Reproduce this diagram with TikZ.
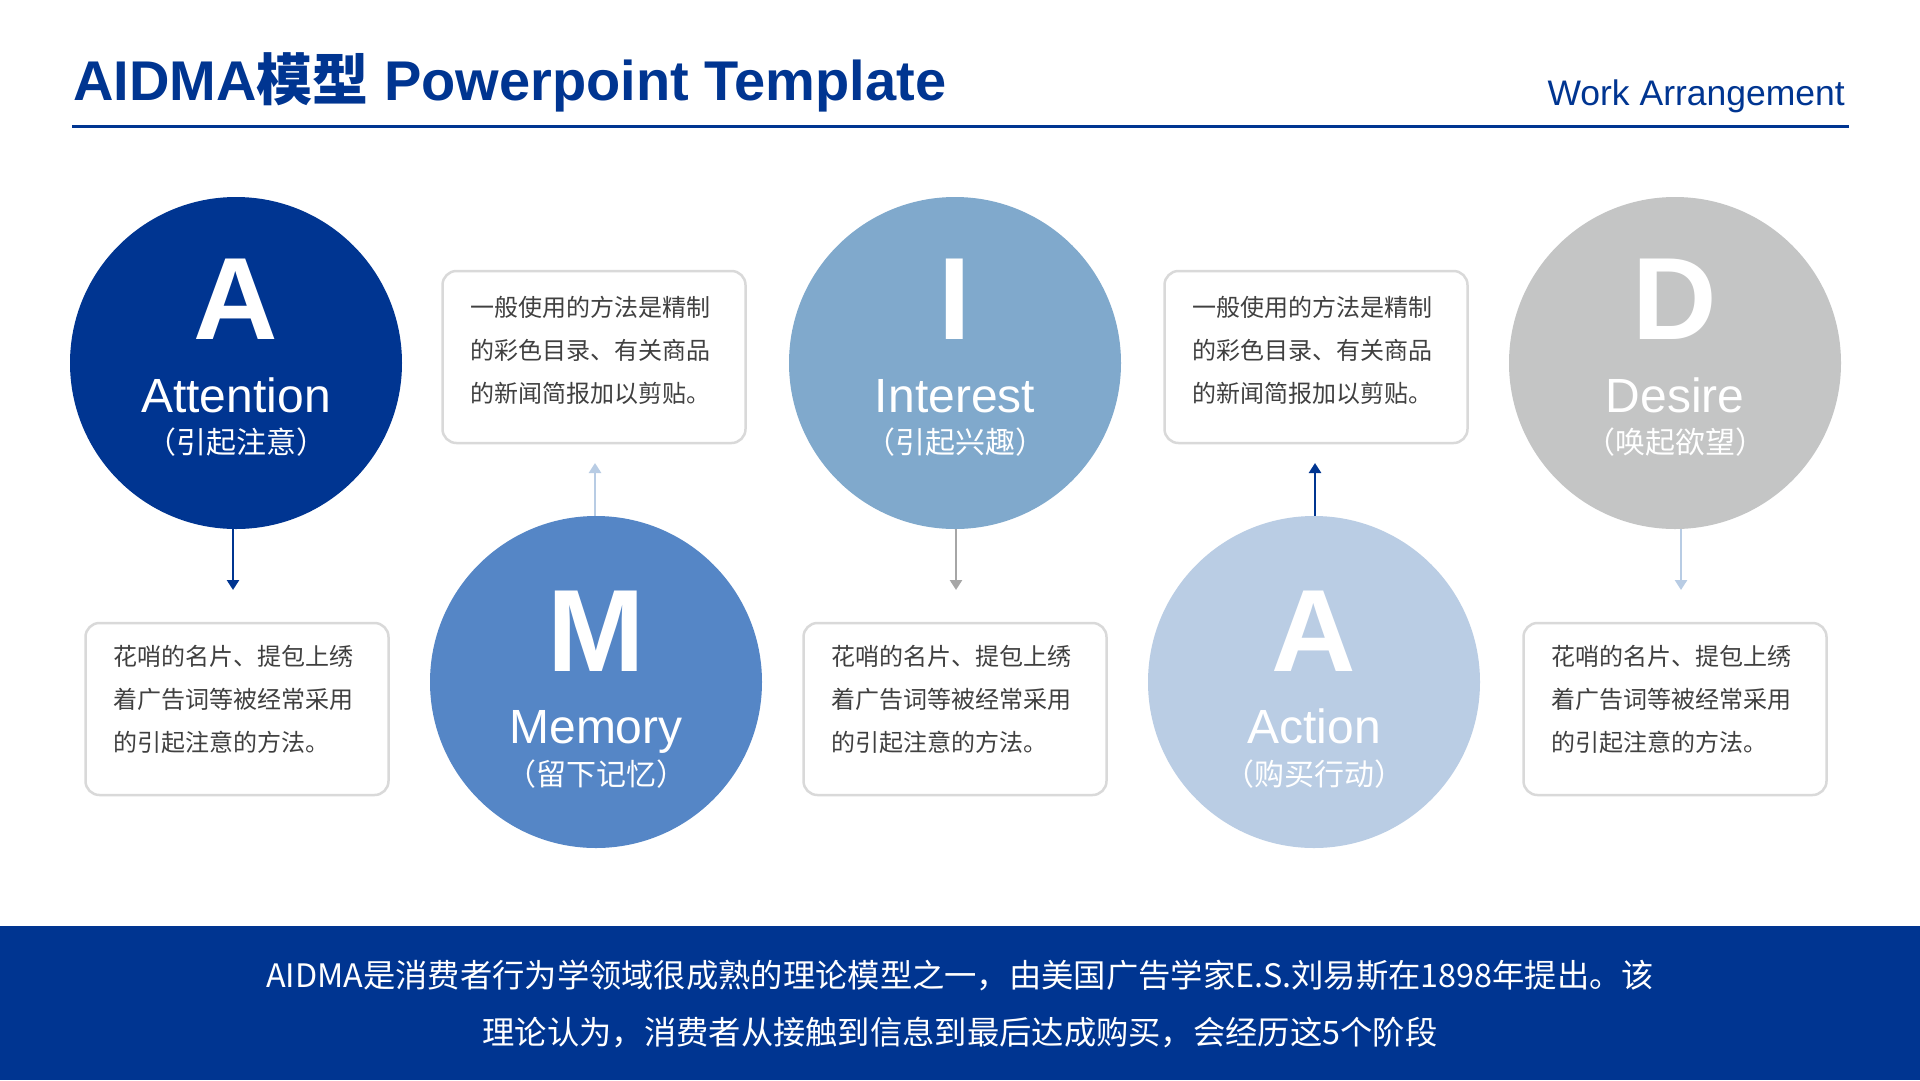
\documentclass[tikz,border=0pt]{standalone}
\usepackage{fontspec}
\setmainfont{Liberation Sans}
\newfontfamily\cjk{Noto Sans CJK SC}
\usetikzlibrary{arrows.meta}
\definecolor{dblue}{HTML}{003591}
\definecolor{iblue}{HTML}{80A9CC}
\definecolor{mblue}{HTML}{5586C6}
\definecolor{ablue}{HTML}{BACDE4}
\definecolor{dgray}{HTML}{C4C5C5}
\definecolor{boxgray}{HTML}{D9D9D9}
\definecolor{txtgray}{HTML}{404040}
\definecolor{arrowlight}{HTML}{B8CCE4}
\definecolor{arrowgray}{HTML}{A6A6A6}
\begin{document}
\begin{tikzpicture}[x=1pt,y=-1pt,
  disc/.style={circle, inner sep=0pt, minimum size=332pt},
  letter/.style={text=white, font=\fontsize{117}{117}\selectfont\bfseries, anchor=base, inner sep=0pt},
  ename/.style={text=white, font=\fontsize{48}{48}\selectfont, anchor=base, inner sep=0pt},
  cname/.style={text=white, font=\cjk\fontsize{30}{30}\selectfont, anchor=center, inner sep=0pt},
  note/.style={draw=boxgray, line width=2.5pt, rounded corners=14pt, minimum width=303pt, minimum height=172pt, fill=white, inner sep=0pt},
  notetext/.style={anchor=north west, align=left, inner sep=0pt, text=txtgray, font=\cjk\fontsize{24}{43}\selectfont},
  conn/.style={line width=2.7pt, -{Triangle[width=12pt,length=10pt]}},
]
\fill[white] (0,0) rectangle (1920,1080);
\useasboundingbox (0,0) rectangle (1920,1080);

% header
\node[anchor=base west, inner sep=0pt, text=dblue, font=\fontsize{56}{56}\selectfont\bfseries] (title) at (73,100) {AIDMA{\cjk\bfseries 模型} Powerpoint Template};
\node[anchor=base east, inner sep=0pt, text=dblue, font=\fontsize{35.5}{35.5}\selectfont] (sub) at (1845,105) {Work Arrangement};
\draw[dblue, line width=3pt] (72,126) -- (1849,126);

% circles
\node[disc, fill=dblue] (cA) at (236,363) {};
\node[disc, fill=iblue] (cI) at (955,363) {};
\node[disc, fill=dgray] (cD) at (1675,363) {};
\node[disc, fill=mblue] (cM) at (596,682) {};
\node[disc, fill=ablue] (cAc) at (1314,682) {};

% circle texts (top row)
\node[letter] (lA) at (236,339) {A};
\node[ename] (eA) at (236,412) {Attention};
\node[cname] (zA) at (236,442) {（引起注意）};
\node[letter] (lI) at (955,339) {I};
\node[ename] (eI) at (955,412) {Interest};
\node[cname] (zI) at (955,442) {（引起兴趣）};
\node[letter] (lD) at (1675,339) {D};
\node[ename] (eD) at (1675,412) {Desire};
\node[cname] (zD) at (1675,442) {（唤起欲望）};
% bottom row
\node[letter] (lM) at (596,671) {M};
\node[ename] (eM) at (596,743) {Memory};
\node[cname] (zM) at (596,774) {（留下记忆）};
\node[letter] (lAc) at (1314,671) {A};
\node[ename] (eAc) at (1314,743) {Action};
\node[cname] (zAc) at (1314,774) {（购买行动）};

% note boxes
\node[note] (bM) at (594,357) {};
\node[note] (bAc) at (1316,357) {};
\node[note] (bA) at (237,709) {};
\node[note] (bI) at (955,709) {};
\node[note] (bD) at (1675,709) {};

\node[notetext] (tM) at (470,296) {一般使用的方法是精制\\的彩色目录、有关商品\\的新闻简报加以剪贴。};
\node[notetext] (tAc) at (1192,296) {一般使用的方法是精制\\的彩色目录、有关商品\\的新闻简报加以剪贴。};
\node[notetext] (tA) at (113,645) {花哨的名片、提包上绣\\着广告词等被经常采用\\的引起注意的方法。};
\node[notetext] (tI) at (831,645) {花哨的名片、提包上绣\\着广告词等被经常采用\\的引起注意的方法。};
\node[notetext] (tD) at (1551,645) {花哨的名片、提包上绣\\着广告词等被经常采用\\的引起注意的方法。};

% arrow ends
\coordinate (pA) at (233,590);
\coordinate (pI) at (956,590);
\coordinate (pD) at (1681,590);
\coordinate (pM) at (595,463);
\coordinate (pAc) at (1315,463);

\draw[conn, dblue] (pA |- cA.south) -- (pA);
\draw[conn, arrowgray] (pI |- cI.south) -- (pI);
\draw[conn, arrowlight] (pD |- cD.south) -- (pD);
\draw[conn, arrowlight] (pM |- cM.north) -- (pM);
\draw[conn, dblue] (pAc |- cAc.north) -- (pAc);

% footer band
\fill[dblue] (0,926) rectangle (1920,1080);
\node[align=center, inner sep=0pt, text=white, font=\cjk\fontsize{32.3}{57}\selectfont] (foot) at (960,1004) {AIDMA是消费者行为学领域很成熟的理论模型之一，由美国广告学家E.S.刘易斯在1898年提出。该\\理论认为，消费者从接触到信息到最后达成购买，会经历这5个阶段};
\end{tikzpicture}
\end{document}
